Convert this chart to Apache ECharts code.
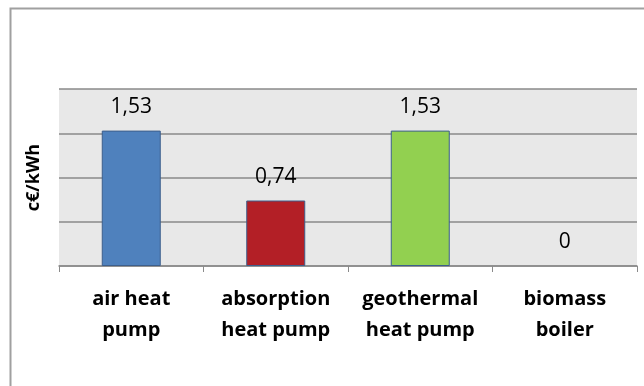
<!DOCTYPE html>
<html>
<head>
<meta charset="utf-8">
<script src="https://cdn.jsdelivr.net/npm/echarts@6/dist/echarts.min.js"></script>
<style>
html,body{margin:0;padding:0;background:#fff;}
#c{width:644px;height:386px;}
</style>
</head>
<body>
<div id="c"></div>
<script>
const categories = ["air heat\npump", "absorption\nheat pump", "geothermal\nheat pump", "biomass\nboiler"];
const values = [1.53, 0.74, 1.53, 0];
const barColors = ["#4f81bd", "#b31f26", "#92d050", "#4f81bd"];
const yTitle = "c€/kWh";
const yMin = 0, yMax = 2, yStep = 0.5;

const chart = echarts.init(document.getElementById('c'), null, {renderer: 'canvas'});
chart.setOption({
  animation: false,
  backgroundColor: '#ffffff',
  graphic: [{
    type: 'rect', left: 8, top: 6, z: -10,
    shape: {x: 0, y: 0, width: 700, height: 500},
    style: {fill: 'none', stroke: '#a0a0a0', lineWidth: 2}
  }],
  grid: {left: 59, right: 7, top: 89, bottom: 120, show: true, backgroundColor: '#e8e8e8', borderWidth: 0},
  xAxis: {
    type: 'category',
    data: categories,
    axisLine: {show: true, lineStyle: {color: '#8a8a8a', width: 1.5}},
    axisTick: {show: true, length: 6, lineStyle: {color: '#8a8a8a', width: 1}},
    axisLabel: {interval: 0, margin: 18, fontFamily: 'Open Sans', fontWeight: 'bold', fontSize: 20, lineHeight: 31, color: '#000'}
  },
  yAxis: {
    type: 'value', min: yMin, max: yMax, interval: yStep,
    name: yTitle, nameLocation: 'middle', nameGap: 16,
    nameTextStyle: {fontFamily: 'Open Sans', fontWeight: 'bold', fontSize: 18, color: '#000'},
    axisLabel: {show: false},
    axisLine: {show: false},
    axisTick: {show: false},
    splitLine: {show: true, lineStyle: {color: '#8a8a8a', width: 1.5}}
  },
  series: [{
    type: 'bar',
    barWidth: 59,
    data: values.map((v, i) => ({value: v, itemStyle: {color: barColors[i], borderWidth: v === 0 ? 0 : 1}})),
    itemStyle: {borderColor: '#3d5f8c', borderWidth: 1},
    label: {
      show: true, position: 'top', distance: 13,
      fontFamily: 'Open Sans', fontSize: 21, lineHeight: 21, color: '#000',
      formatter: p => String(p.value).replace('.', ',')
    }
  }]
});
</script>
</body>
</html>
